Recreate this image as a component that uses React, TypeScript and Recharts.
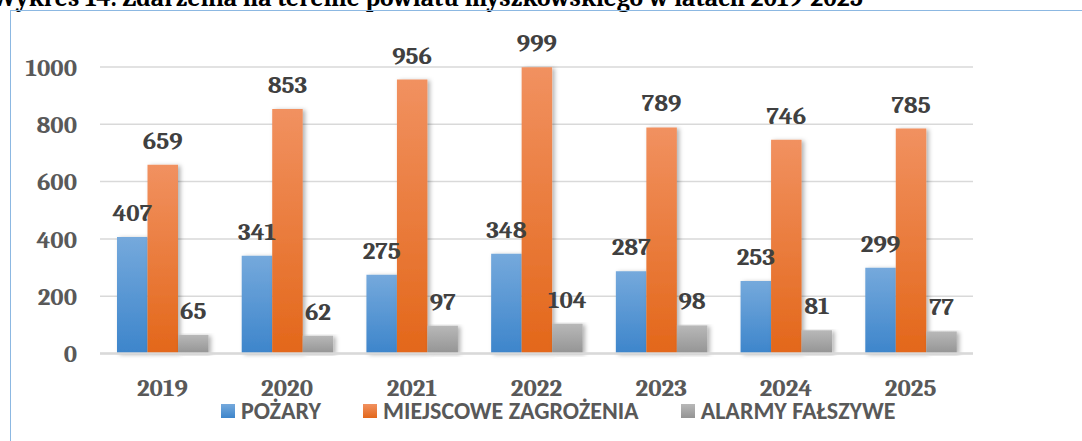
import { BarChart, Bar, XAxis, YAxis, CartesianGrid, LabelList } from 'recharts';

const years = ['2019', '2020', '2021', '2022', '2023', '2024', '2025'];
const pozary = [407, 341, 275, 348, 287, 253, 299];
const miejscowe = [659, 853, 956, 999, 789, 746, 785];
const alarmy = [65, 62, 97, 104, 98, 81, 77];
const yTicks = [0, 200, 400, 600, 800, 1000];

const series = [
  { key: 'pozary', name: 'POŻARY', grad: 'gBlue', top: '#75a9dc', bottom: '#3d85cb' },
  { key: 'miejscowe', name: 'MIEJSCOWE ZAGROŻENIA', grad: 'gOrange', top: '#f19160', bottom: '#e3671a' },
  { key: 'alarmy', name: 'ALARMY FAŁSZYWE', grad: 'gGray', top: '#b8b8b8', bottom: '#949494' },
];

const data = years.map((year, i) => ({
  year,
  pozary: pozary[i],
  miejscowe: miejscowe[i],
  alarmy: alarmy[i],
}));

const serif = "Cambria, Caladea, 'Liberation Serif', 'DejaVu Serif', serif";
const sans = "Calibri, Carlito, 'Open Sans', 'Liberation Sans', sans-serif";

const Legend = () => (
  <div
    style={{
      position: 'absolute',
      left: 221,
      top: 402.5,
      display: 'flex',
      alignItems: 'center',
      gap: 42,
      fontFamily: sans,
      fontWeight: 'bold',
      fontSize: 24,
      color: '#595959',
      lineHeight: '16px',
      whiteSpace: 'nowrap',
    }}
  >
    {series.map((s) => (
      <div key={s.key} style={{ display: 'flex', alignItems: 'center', gap: 6 }}>
        <span
          style={{
            width: 14,
            height: 14,
            display: 'inline-block',
            background: `linear-gradient(${s.top}, ${s.bottom})`,
          }}
        />
        <span>{s.name}</span>
      </div>
    ))}
  </div>
);

export default function App() {
  return (
    <div
      style={{
        position: 'absolute',
        left: 0,
        top: 0,
        width: 1082,
        height: 441,
        overflow: 'hidden',
        background: '#fff',
      }}
    >
      <svg width={1082} height={20} style={{ position: 'absolute', left: 0, top: 0 }}>
        <text x={863} y={6} textAnchor="end" fontFamily={serif} fontWeight="bold" fontSize={25.5} fill="#000">
          Wykres 14. Zdarzenia na terenie powiatu myszkowskiego w latach 2019-2025
        </text>
      </svg>
      <div
        style={{
          position: 'absolute',
          left: 10,
          top: 10,
          width: 1100,
          height: 460,
          borderTop: '1.5px solid #8cb8e2',
          borderLeft: '1.5px solid #8cb8e2',
        }}
      />
      <div style={{ position: 'absolute', left: 0, top: 0 }}>
        <BarChart
          width={1082}
          height={441}
          data={data}
          margin={{ top: 67, right: 109, bottom: 57.5, left: 30 }}
          barSize={30.5}
          barGap={0}
        >
          <defs>
            {series.map((s) => (
              <linearGradient key={s.grad} id={s.grad} x1="0" y1="0" x2="0" y2="1">
                <stop offset="0%" stopColor={s.top} />
                <stop offset="100%" stopColor={s.bottom} />
              </linearGradient>
            ))}
            <filter id="shadow" x="-20%" y="-5%" width="150%" height="115%">
              <feDropShadow dx="2.5" dy="1" stdDeviation="2" floodColor="#000" floodOpacity="0.3" />
            </filter>
          </defs>
          <CartesianGrid vertical={false} stroke="#d9d9d9" strokeWidth={1.5} />
          <XAxis
            dataKey="year"
            height={30}
            axisLine={{ stroke: '#d9d9d9', strokeWidth: 2.5 }}
            tickLine={false}
            tickMargin={19}
            tick={{ fill: '#595959', fontFamily: serif, fontWeight: 'bold', fontSize: 25 }}
          />
          <YAxis
            width={70}
            domain={[0, 1000]}
            ticks={yTicks}
            axisLine={false}
            tickLine={false}
            tickMargin={17}
            tick={{ fill: '#595959', fontFamily: serif, fontWeight: 'bold', fontSize: 25 }}
          />
          {series.map((s) => (
            <Bar
              key={s.key}
              dataKey={s.key}
              name={s.name}
              fill={`url(#${s.grad})`}
              filter="url(#shadow)"
              isAnimationActive={false}
            >
              <LabelList
                dataKey={s.key}
                position="top"
                offset={16}
                fill="#404040"
                fontFamily={serif}
                fontWeight="bold"
                fontSize={25}
              />
            </Bar>
          ))}
        </BarChart>
      </div>
      <Legend />
    </div>
  );
}
